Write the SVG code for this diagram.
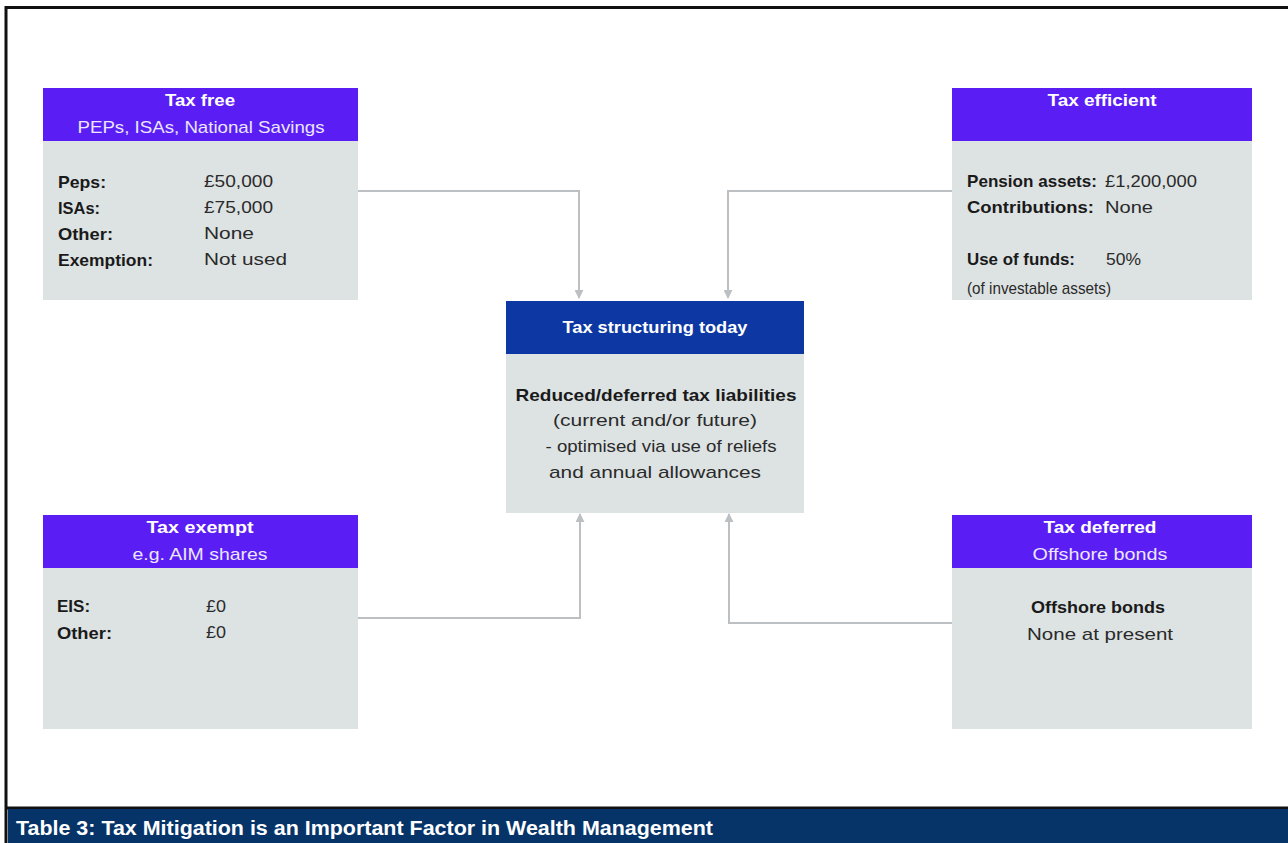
<svg xmlns="http://www.w3.org/2000/svg" width="1288" height="843" viewBox="0 0 1288 843">
  <style>
    .hdr { fill: #5a1ef4; }
    .hdr2 { fill: #0d38a3; }
    .body { fill: #dde2e3; }
    text { font-family: "Liberation Sans", Arial, sans-serif; }
    .t { font-size: 17px; font-weight: bold; fill: #ffffff; text-anchor: middle; }
    .s { font-size: 17px; fill: #ece6ff; text-anchor: middle; }
    .k { font-size: 17px; font-weight: bold; fill: #1a1a1a; }
    .v { font-size: 17px; fill: #2a2a2a; }
    .c { text-anchor: middle; }
    .conn { fill: none; stroke: #bcc0c3; stroke-width: 2; }
  </style>
  <defs>
    <marker id="arr" viewBox="0 0 10 10" refX="9" refY="5" markerWidth="9" markerHeight="9" markerUnits="userSpaceOnUse" orient="auto">
      <path d="M0,0 L10,5 L0,10 Z" fill="#bcc0c3"/>
    </marker>
  </defs>
  <rect x="0" y="0" width="1288" height="843" fill="#ffffff"/>
  <g id="frame">
    <line x1="5" y1="7.5" x2="1288" y2="7.5" stroke="#111" stroke-width="3"/>
    <line x1="6" y1="6" x2="6" y2="843" stroke="#111" stroke-width="3"/>
    <line x1="6" y1="808" x2="1288" y2="808" stroke="#111" stroke-width="3"/>
    <rect x="8" y="809" width="1280" height="34" fill="#063469"/>
    <text x="16" y="835" font-size="20" font-weight="bold" fill="#ffffff" textLength="697" lengthAdjust="spacingAndGlyphs">Table 3: Tax Mitigation is an Important Factor in Wealth Management</text>
  </g>

  <g id="connectors">
    <polyline class="conn" points="358,191 579,191 579,298" marker-end="url(#arr)"/>
    <polyline class="conn" points="952,191 728,191 728,298" marker-end="url(#arr)"/>
    <polyline class="conn" points="358,618 580,618 580,514" marker-end="url(#arr)"/>
    <polyline class="conn" points="952,623 729,623 729,514" marker-end="url(#arr)"/>
  </g>

  <g id="tax-free">
    <rect class="body" x="43" y="141" width="315" height="159"/>
    <rect class="hdr" x="43" y="88" width="315" height="53"/>
    <text class="t" x="200" y="106" textLength="70" lengthAdjust="spacingAndGlyphs">Tax free</text>
    <text class="s" x="201" y="133" textLength="247" lengthAdjust="spacingAndGlyphs">PEPs, ISAs, National Savings</text>
    <text class="k" x="58" y="188" textLength="48" lengthAdjust="spacingAndGlyphs">Peps:</text><text class="v" x="204" y="187" textLength="69" lengthAdjust="spacingAndGlyphs">£50,000</text>
    <text class="k" x="58" y="214" textLength="42" lengthAdjust="spacingAndGlyphs">ISAs:</text><text class="v" x="204" y="213" textLength="69" lengthAdjust="spacingAndGlyphs">£75,000</text>
    <text class="k" x="58" y="240" textLength="55" lengthAdjust="spacingAndGlyphs">Other:</text><text class="v" x="204" y="239" textLength="50" lengthAdjust="spacingAndGlyphs">None</text>
    <text class="k" x="58" y="266" textLength="95" lengthAdjust="spacingAndGlyphs">Exemption:</text><text class="v" x="204" y="265" textLength="83" lengthAdjust="spacingAndGlyphs">Not used</text>
  </g>

  <g id="tax-efficient">
    <rect class="body" x="952" y="141" width="300" height="159"/>
    <rect class="hdr" x="952" y="88" width="300" height="53"/>
    <text class="t" x="1102" y="106" textLength="109" lengthAdjust="spacingAndGlyphs">Tax efficient</text>
    <text class="k" x="967" y="187" textLength="130" lengthAdjust="spacingAndGlyphs">Pension assets:</text><text class="v" x="1105" y="187" textLength="92" lengthAdjust="spacingAndGlyphs">£1,200,000</text>
    <text class="k" x="967" y="213" textLength="127" lengthAdjust="spacingAndGlyphs">Contributions:</text><text class="v" x="1105" y="213" textLength="48" lengthAdjust="spacingAndGlyphs">None</text>
    <text class="k" x="967" y="265" textLength="108" lengthAdjust="spacingAndGlyphs">Use of funds:</text><text class="v" x="1106" y="265" textLength="35" lengthAdjust="spacingAndGlyphs">50%</text>
    <text class="v" x="967" y="294" font-size="11" textLength="144" lengthAdjust="spacingAndGlyphs">(of investable assets)</text>
  </g>

  <g id="tax-structuring">
    <rect class="body" x="506" y="354" width="298" height="159"/>
    <rect class="hdr2" x="506" y="301" width="298" height="53"/>
    <text class="t" x="655" y="333" textLength="185" lengthAdjust="spacingAndGlyphs">Tax structuring today</text>
    <text class="k c" x="656" y="401" textLength="281" lengthAdjust="spacingAndGlyphs">Reduced/deferred tax liabilities</text>
    <text class="v c" x="655" y="426" textLength="204" lengthAdjust="spacingAndGlyphs">(current and/or future)</text>
    <text class="v c" x="661" y="452" textLength="231" lengthAdjust="spacingAndGlyphs">- optimised via use of reliefs</text>
    <text class="v c" x="655" y="478" textLength="212" lengthAdjust="spacingAndGlyphs">and annual allowances</text>
  </g>

  <g id="tax-exempt">
    <rect class="body" x="43" y="568" width="315" height="161"/>
    <rect class="hdr" x="43" y="515" width="315" height="53"/>
    <text class="t" x="200" y="533" textLength="107" lengthAdjust="spacingAndGlyphs">Tax exempt</text>
    <text class="s" x="200" y="560" textLength="135" lengthAdjust="spacingAndGlyphs">e.g. AIM shares</text>
    <text class="k" x="57" y="612">EIS:</text><text class="v" x="206" y="612" textLength="20" lengthAdjust="spacingAndGlyphs">£0</text>
    <text class="k" x="57" y="639" textLength="55" lengthAdjust="spacingAndGlyphs">Other:</text><text class="v" x="206" y="638" textLength="20" lengthAdjust="spacingAndGlyphs">£0</text>
  </g>

  <g id="tax-deferred">
    <rect class="body" x="952" y="568" width="300" height="161"/>
    <rect class="hdr" x="952" y="515" width="300" height="53"/>
    <text class="t" x="1100" y="533" textLength="113" lengthAdjust="spacingAndGlyphs">Tax deferred</text>
    <text class="s" x="1100" y="560" textLength="135" lengthAdjust="spacingAndGlyphs">Offshore bonds</text>
    <text class="k c" x="1098" y="613" textLength="134" lengthAdjust="spacingAndGlyphs">Offshore bonds</text>
    <text class="v c" x="1100" y="640" textLength="146" lengthAdjust="spacingAndGlyphs">None at present</text>
  </g>
</svg>
